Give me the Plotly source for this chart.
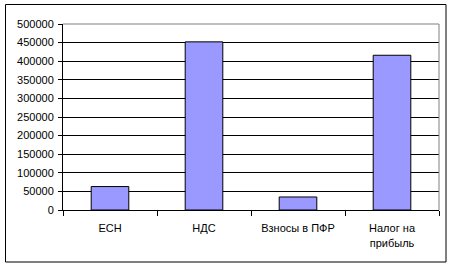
import plotly.graph_objects as go

categories = ["ЕСН", "НДС", "Взносы в ПФР", "Налог на<br>прибыль"]
values = [63000, 452000, 35000, 416000]
y_ticks = [0, 50000, 100000, 150000, 200000, 250000, 300000, 350000, 400000, 450000, 500000]

W, H = 453, 267
L, R, T, B = 63, 14, 24, 57
pw, ph = W - L - R, H - T - B

def px_to_paper_x(px):
    return (px - L) / pw

def px_to_paper_y(py):
    return (H - B - py) / ph

fig = go.Figure(go.Bar(
    x=categories, y=values,
    marker=dict(color="#9999FF", line=dict(color="black", width=1)),
))

fig.update_layout(
    width=W, height=H,
    margin=dict(l=L, r=R, t=T, b=B),
    paper_bgcolor="white", plot_bgcolor="white",
    bargap=0.6,
    showlegend=False,
    font=dict(family="Liberation Sans, Arial", size=11, color="black"),
    xaxis=dict(
        type="category", showline=True, linecolor="black", linewidth=1,
        ticks="outside", tickson="boundaries", ticklen=5, tickcolor="black",
        showgrid=False, fixedrange=True, ticklabelstandoff=8,
    ),
    yaxis=dict(
        range=[0, 500000], tickvals=y_ticks, ticktext=[str(v) for v in y_ticks],
        showline=True, linecolor="black", linewidth=1,
        ticks="outside", ticklen=4, tickcolor="black", ticklabelstandoff=2,
        showgrid=True, gridcolor="black", gridwidth=1, zeroline=False,
    ),
    shapes=[
        dict(type="line", xref="paper", yref="paper", x0=0, x1=1, y0=1, y1=1,
             line=dict(color="#808080", width=1)),
        dict(type="line", xref="paper", yref="paper", x0=1, x1=1, y0=0, y1=1,
             line=dict(color="#808080", width=1)),
        dict(type="rect", xref="paper", yref="paper",
             x0=px_to_paper_x(5.5), x1=px_to_paper_x(446), y0=px_to_paper_y(262), y1=px_to_paper_y(4.5),
             line=dict(color="black", width=1), fillcolor="rgba(0,0,0,0)", layer="below"),
    ],
)

fig.write_html("out.html")
